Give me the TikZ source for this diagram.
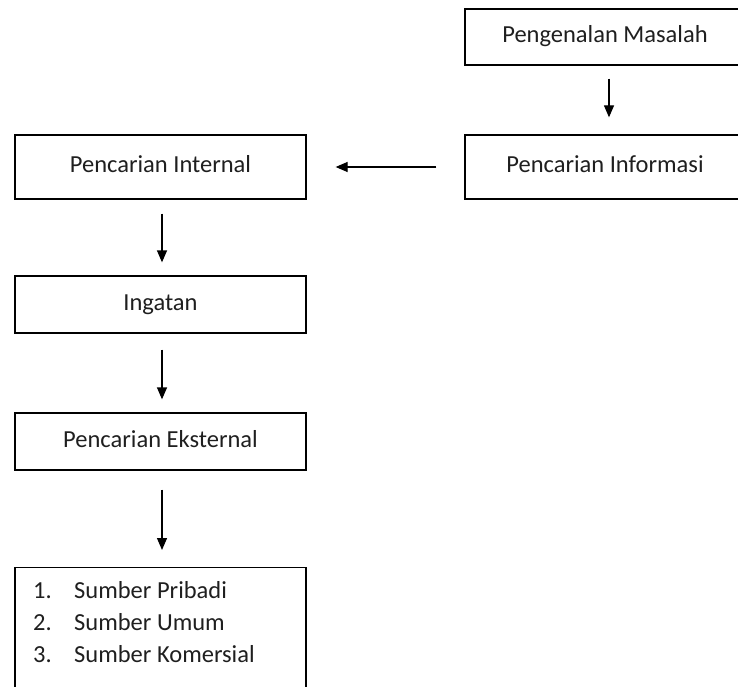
\documentclass[tikz,border=0pt]{standalone}
\usepackage{fontspec}
\setmainfont{Carlito}
\usetikzlibrary{arrows.meta}

\tikzset{
  stepbox/.style={draw=black, line width=1.3pt, rectangle, inner sep=0pt,
    font=\fontsize{24.5}{32}\selectfont, text=black!88,
    text height=18pt, text depth=6pt},
  flow/.style={draw=black, line width=1.3pt,
    -{Triangle[length=12pt,width=10pt]}},
  item/.style={anchor=base west, inner sep=0pt,
    font=\fontsize{24.5}{32}\selectfont, text=black!88}
}

\begin{document}
\begin{tikzpicture}[x=1pt,y=-1pt]
  \useasboundingbox (0,0) rectangle (738,687);
  \clip (0,0) rectangle (738,687);

  % right column
  \node[stepbox, minimum width=280pt, minimum height=56pt] (pm) at (605,37) {Pengenalan Masalah};
  \node[stepbox, minimum width=280pt, minimum height=64pt] (pi) at (605,167) {Pencarian Informasi};

  % left column
  \node[stepbox, minimum width=291pt, minimum height=64pt] (pint) at (160.5,167) {Pencarian Internal};
  \node[stepbox, minimum width=291pt, minimum height=57pt] (ing) at (160.5,304.5) {Ingatan};
  \node[stepbox, minimum width=291pt, minimum height=57pt] (pek) at (160.5,441.5) {Pencarian Eksternal};

  % list of information sources, box runs past the lower edge
  \node[stepbox, minimum width=291pt, minimum height=140pt, anchor=north] (src) at (160.5,567) {};
  \node[item] (n1) at (33,598) {1.};
  \node[item] (n2) at (33,630) {2.};
  \node[item] (n3) at (33,662) {3.};
  \node[item] (s1) at (74,598) {Sumber Pribadi};
  \node[item] (s2) at (74,630) {Sumber Umum};
  \node[item] (s3) at (74,662) {Sumber Komersial};

  % connectors
  \draw[flow, shorten <=13pt, shorten >=17pt] ([xshift=4pt]pm.south) -- ([xshift=4pt]pi.north);
  \draw[flow, shorten <=28pt, shorten >=29pt] (pi.west) -- (pint.east);
  \draw[flow, shorten <=14pt, shorten >=13pt] ([xshift=1.5pt]pint.south) -- ([xshift=1.5pt]ing.north);
  \draw[flow, shorten <=16pt, shorten >=13pt] ([xshift=1.5pt]ing.south) -- ([xshift=1.5pt]pek.north);
  \draw[flow, shorten <=19pt, shorten >=17pt] ([xshift=1.5pt]pek.south) -- ([xshift=1.5pt]src.north);
\end{tikzpicture}
\end{document}
